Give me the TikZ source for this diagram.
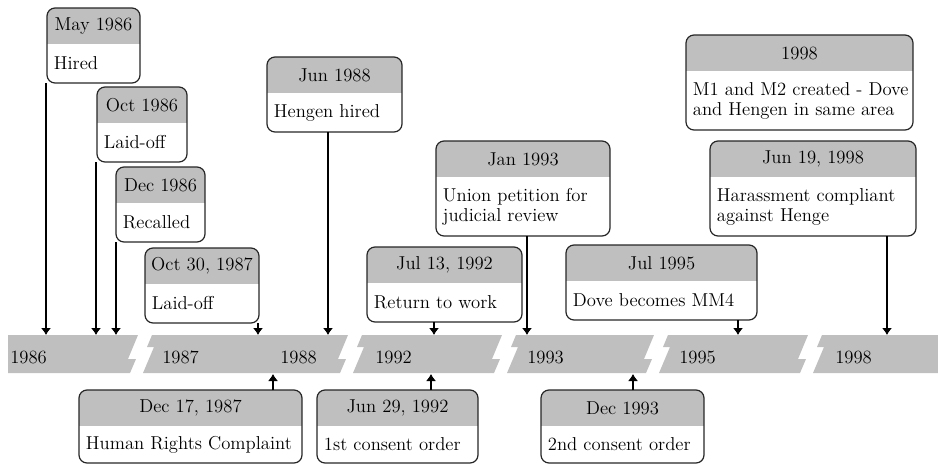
\documentclass[tikz,border=0pt]{standalone}
\usetikzlibrary{positioning,fit,arrows.meta}

\definecolor{bandgray}{RGB}{191,191,191}

% one event: name, x1, y1, x2, y2, date, text
\newcommand{\tlevent}[7]{%
  \node[evframe, fit={(#2,#3) (#4,#5)}] (#1) {};
  \begin{scope}
    \clip[rounded corners=6pt] (#1.north west) rectangle (#1.south east);
    \fill[bandgray] (#1.north west) rectangle ([yshift=-27pt]#1.north east);
  \end{scope}
  \draw[evline] (#1.north west) rectangle (#1.south east);
  \node[evdate] (#1-date) at ([yshift=-13.5pt]#1.north) {#6};
  \node[evtext] (#1-text) at ([xshift=5pt,yshift=-13.5pt]#1.west) {#7};
}

\begin{document}
\begin{tikzpicture} [x=0.75pt,y=-0.75pt,
  evframe/.style={inner sep=0pt,outer sep=0pt},
  evline/.style={draw=black!85,line width=0.9pt,rounded corners=6pt},
  evdate/.style={font=\fontsize{14pt}{15pt}\selectfont,inner sep=0pt},
  evtext/.style={font=\fontsize{14pt}{15pt}\selectfont,inner sep=0pt,anchor=west,align=left},
  year/.style={font=\fontsize{14pt}{15pt}\selectfont,inner sep=0pt,anchor=base west},
  conn/.style={->,line width=0.8pt},
  >={Latex[length=5.25pt,width=7.5pt]}]

\useasboundingbox (0,0) rectangle (938,464);

% the broken time band
\fill[bandgray] (8,335) -- (138,335) -- (128,359) -- (136,359) -- (130,373) -- (8,373) -- cycle;
\fill[bandgray] (152,335) -- (348,335) -- (338,359) -- (346,359) -- (340,373) -- (143,373) -- (154,347) -- (147,347) -- cycle;
\fill[bandgray] (362,335) -- (502,335) -- (492,359) -- (500,359) -- (494,373) -- (353,373) -- (364,347) -- (357,347) -- cycle;
\fill[bandgray] (516,335) -- (654,335) -- (644,359) -- (652,359) -- (646,373) -- (507,373) -- (518,347) -- (511,347) -- cycle;
\fill[bandgray] (668,335) -- (808,335) -- (798,359) -- (806,359) -- (800,373) -- (659,373) -- (670,347) -- (663,347) -- cycle;
\fill[bandgray] (822,335) -- (938,335) -- (938,373) -- (813,373) -- (824,347) -- (817,347) -- cycle;

\node[year] (y86) at (10,363) {1986};
\node[year] (y87) at (162,363) {1987};
\node[year] (y88) at (280,363) {1988};
\node[year] (y92) at (375,363) {1992};
\node[year] (y93) at (527,363) {1993};
\node[year] (y95) at (679,363) {1995};
\node[year] (y98) at (835,363) {1998};

% events above the band
\tlevent{may86}{47}{8}{140}{83}{May 1986}{Hired}
\tlevent{oct86}{97}{87}{187}{162}{Oct 1986}{Laid-off}
\tlevent{dec86}{116}{167}{205}{242}{Dec 1986}{Recalled}
\tlevent{oct87}{145}{248}{259}{323}{Oct 30, 1987}{Laid-off}
\tlevent{jun88}{267}{57}{402}{132}{Jun 1988}{Hengen hired}
\tlevent{jul92}{367}{247}{522}{322}{Jul 13, 1992}{Return to work}
\tlevent{jan93}{436}{141}{610}{236}{Jan 1993}{Union petition for\\judicial review}
\tlevent{jul95}{566}{245}{757}{320}{Jul 1995}{Dove becomes MM4}
\tlevent{mm98}{686}{35}{913}{130}{1998}{M1 and M2 created - Dove\\and Hengen in same area}
\tlevent{jun98}{710}{141}{916}{236}{Jun 19, 1998}{Harassment compliant\\against Henge}

% events below the band
\tlevent{dec87}{79}{390}{302}{463}{Dec 17, 1987}{Human Rights Complaint}
\tlevent{jun92}{317}{390}{478}{463}{Jun 29, 1992}{1st consent order}
\tlevent{dec93}{541}{390}{704}{463}{Dec 1993}{2nd consent order}

% points on the band
\coordinate (t1) at (46,335);
\coordinate (t2) at (96,335);
\coordinate (t3) at (116,335);
\coordinate (t4) at (258,335);
\coordinate (t5) at (328,335);
\coordinate (t6) at (434,335);
\coordinate (t7) at (527,335);
\coordinate (t8) at (738,335);
\coordinate (t9) at (887,335);
\coordinate (b1) at (273,374);
\coordinate (b2) at (431,374);
\coordinate (b3) at (633,374);

\draw[conn] (t1 |- may86.south) -- (t1);
\draw[conn] (t2 |- oct86.south) -- (t2);
\draw[conn] (t3 |- dec86.south) -- (t3);
\draw[conn] (t4 |- oct87.south) -- (t4);
\draw[conn] (t5 |- jun88.south) -- (t5);
\draw[conn] (t6 |- jul92.south) -- (t6);
\draw[conn] (t7 |- jan93.south) -- (t7);
\draw[conn] (t8 |- jul95.south) -- (t8);
\draw[conn] (t9 |- jun98.south) -- (t9);
\draw[conn] (b1 |- dec87.north) -- (b1);
\draw[conn] (b2 |- jun92.north) -- (b2);
\draw[conn] (b3 |- dec93.north) -- (b3);
\end{tikzpicture}
\end{document}
